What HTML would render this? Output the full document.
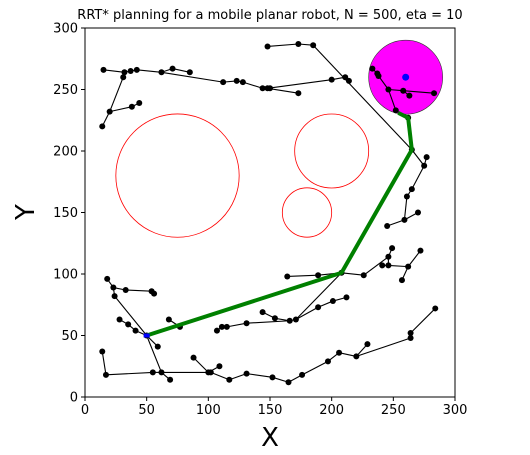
<!DOCTYPE html>
<html><head><meta charset="utf-8"><style>
html,body{margin:0;padding:0;background:#fff;}
svg text{font-family:"DejaVu Sans","Liberation Sans",sans-serif;}
</style></head><body>
<svg id="chart" width="530" height="450" viewBox="0 0 530 450" xmlns="http://www.w3.org/2000/svg">
<rect width="530" height="450" fill="#fff"/>
<text x="270" y="19" font-size="13" text-anchor="middle">RRT* planning for a mobile planar robot, N = 500, eta = 10</text>
<g id="plot"></g>
<text x="270" y="446" font-size="26" text-anchor="middle">X</text>
<text transform="translate(34,212) rotate(-90)" font-size="26" text-anchor="middle">Y</text>
</svg>
<script>
const xTicks=[0,50,100,150,200,250,300];
const yTicks=[0,50,100,150,200,250,300];
const obstacles=[[75,180,50],[200,200,30],[180,150,20]];
const goal=[260,260,30];
const nodes=[[15,266],[32,264],[37,265],[42,266],[62,264],[71,267],[85,264],[31,260],[20,232],[14,220],
[38,236],[44,239],[112,256],[123,257],[128,256],[144,251],[148,251],[150,251],[173,247],[200,258],
[211,260],[214,257],[148,285],[173,287],[185,286],[265,201],[233,267],[237,263],[238,261],[246,250],
[258,249],[283,247],[263,245],[252,233],[262,227],[275,188],[277,195],[265,169],[261,163],[259,144],
[245,139],[270,150],[208,101],[164,98],[189,99],[226,99],[246,114],[249,121],[246,107],[241,107],
[262,106],[272,119],[257,95],[171,63],[166,62],[154,64],[144,69],[189,73],[201,78],[212,81],
[131,60],[115,57],[111,57],[107,54],[50,50],[59,41],[68,63],[77,57],[41,54],[35,59],
[28,63],[24,82],[23,89],[18,96],[33,87],[54,86],[56,84],[62,20],[69,14],[55,20],
[17,18],[14,37],[100,20],[102,20],[109,25],[88,32],[117,14],[131,19],[152,16],[165,12],
[176,18],[197,29],[206,36],[220,33],[229,43],[264,48],[264,52],[284,72]];
const edges=[[0,1],[1,2],[2,3],[3,4],[4,5],[5,6],[1,7],[7,8],[8,9],[8,10],[10,11],[4,12],[12,13],[13,14],[14,15],[15,16],[16,17],[16,18],[16,19],[19,20],[20,21],[22,23],[23,24],[24,25],[26,27],[27,28],[28,29],[29,30],[30,31],[30,32],[29,33],[33,34],[34,25],[25,35],[35,36],[35,37],[37,38],[38,39],[39,40],[39,41],[42,25],[43,44],[44,42],[42,45],[45,46],[46,47],[46,48],[48,49],[48,50],[50,51],[50,52],[42,53],[53,54],[54,55],[55,56],[53,57],[57,58],[58,59],[54,60],[60,61],[61,62],[62,63],[66,67],[64,68],[68,69],[69,70],[64,71],[71,72],[72,73],[72,74],[74,75],[75,76],[64,65],[64,77],[77,78],[77,79],[79,80],[80,81],[77,82],[82,83],[82,84],[82,85],[83,86],[86,87],[87,88],[88,89],[89,90],[90,91],[91,92],[92,93],[93,94],[93,95],[95,96],[96,97]];
const pathX=[50,208,265,262,254];
const pathY=[50,101,201,227,231];
const start=[50,50];

const L=85,R=455,T=28,B=397;
const sx=v=>L+(v/300)*(R-L);
const sy=v=>B-(v/300)*(B-T);
const ns="http://www.w3.org/2000/svg";
const g=document.getElementById('plot');
function mk(tag,attrs){const e=document.createElementNS(ns,tag);for(const k in attrs)e.setAttribute(k,attrs[k]);g.appendChild(e);return e;}
obstacles.forEach(o=>{const c=mk('circle',{cx:sx(o[0]),cy:sy(o[1]),r:o[2]*(R-L)/300,fill:'none',stroke:'#ff0000','stroke-width':0.8});

});
const gc=mk('circle',{cx:sx(goal[0]),cy:sy(goal[1]),r:goal[2]*(R-L)/300,fill:'#ff00ff',stroke:'#333','stroke-width':0.6});


edges.forEach(e=>{const a=nodes[e[0]],b=nodes[e[1]];const l=mk('line',{x1:sx(a[0]),y1:sy(a[1]),x2:sx(b[0]),y2:sy(b[1]),stroke:'#000','stroke-width':1.1});

});
nodes.forEach(n=>{const c=mk('circle',{cx:sx(n[0]),cy:sy(n[1]),r:3,fill:'#000'});

});
const p=mk('polyline',{points:pathX.map((x,i)=>sx(x)+','+sy(pathY[i])).join(' '),fill:'none',stroke:'#008000','stroke-width':4,'stroke-linejoin':'round'});


const st=mk('rect',{x:sx(start[0])-3,y:sy(start[1])-2,width:6,height:4,fill:'#0000ff'});


const gp=mk('circle',{cx:sx(goal[0]),cy:sy(goal[1]),r:3.5,fill:'#0000ff'});


const fr=mk('rect',{x:L,y:T,width:R-L,height:B-T,fill:'none',stroke:'#000','stroke-width':1});


xTicks.forEach(t=>{const l=mk('line',{x1:sx(t),y1:B,x2:sx(t),y2:B+4,stroke:'#000'});


const tx=mk('text',{x:sx(t),y:B+17,'font-size':13,'text-anchor':'middle'});tx.textContent=t;

});
yTicks.forEach(t=>{const l=mk('line',{x1:L-4,y1:sy(t),x2:L,y2:sy(t),stroke:'#000'});


const tx=mk('text',{x:L-7,y:sy(t)+4.5,'font-size':13,'text-anchor':'end'});tx.textContent=t;

});
</script>
</body></html>
